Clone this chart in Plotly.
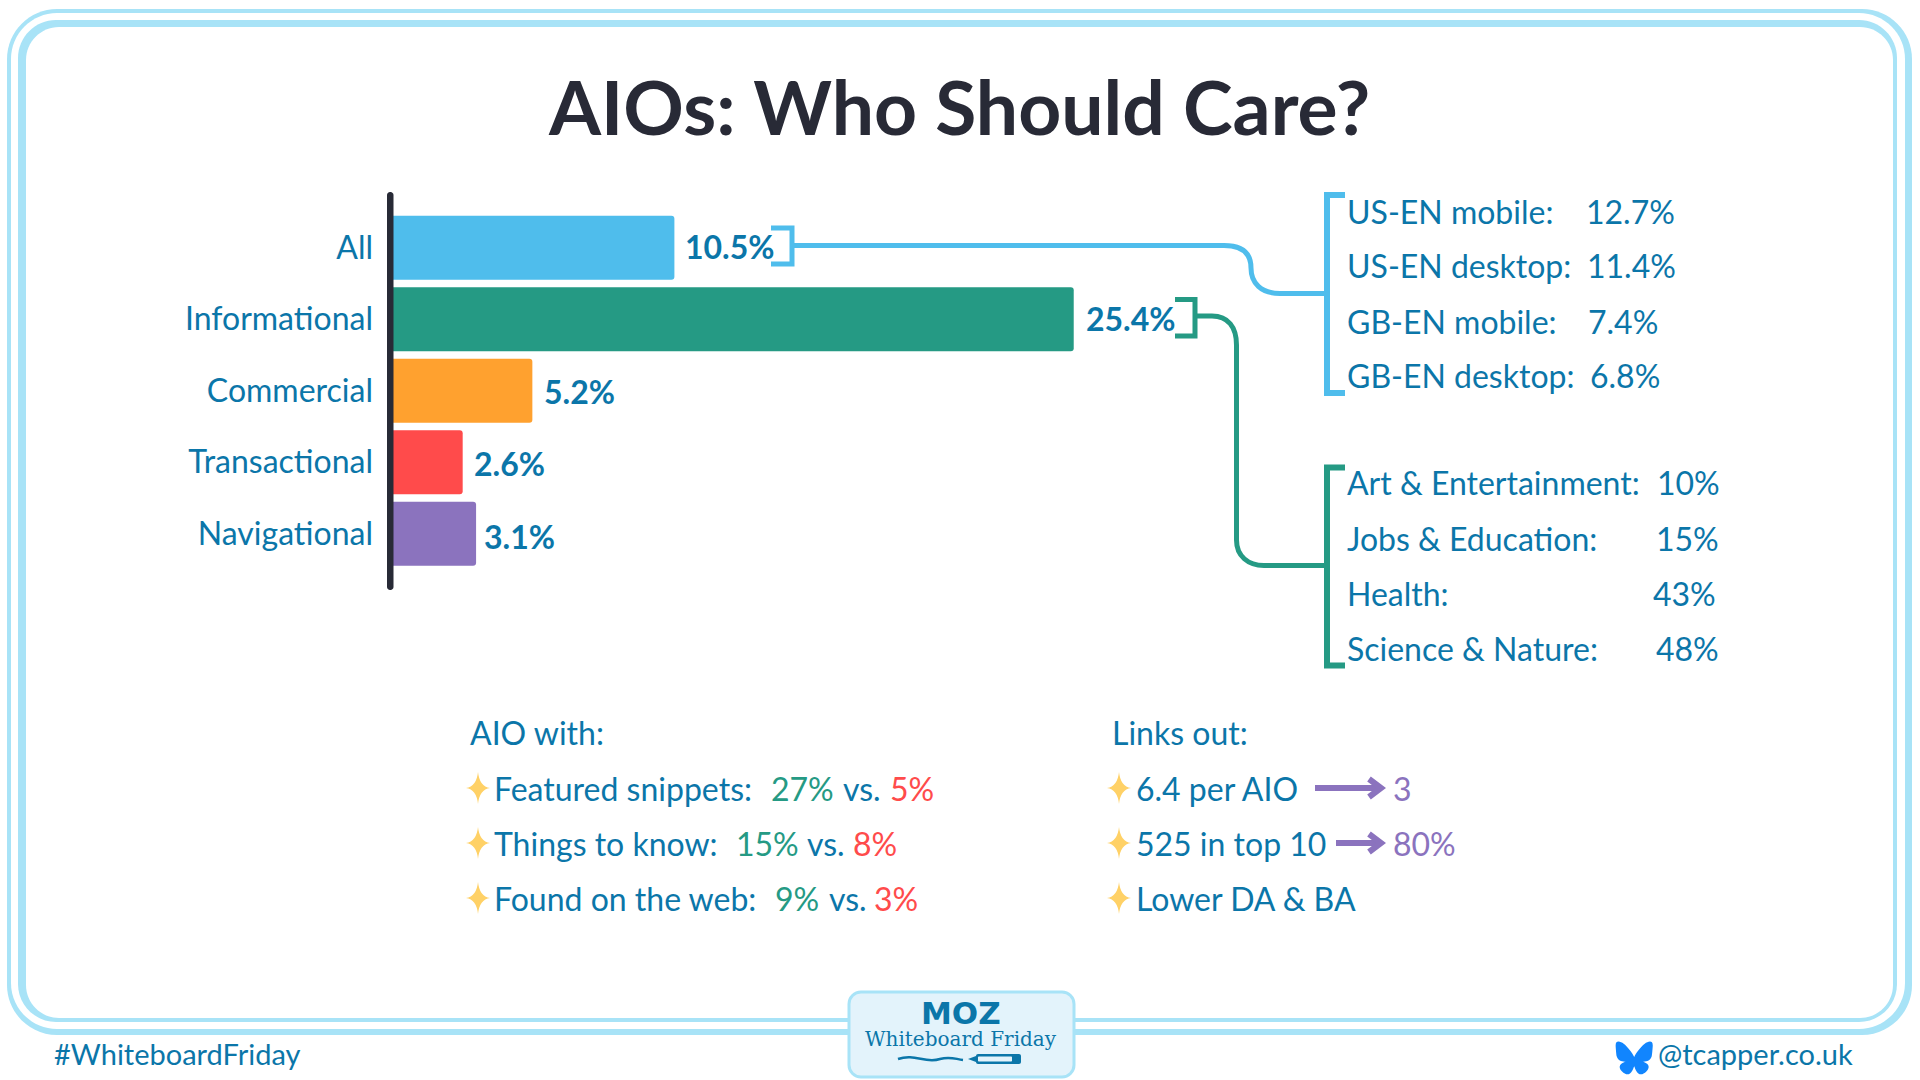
import plotly.graph_objects as go

W = 1920
H = 1080

# main bars
categories = ["All", "Informational", "Commercial", "Transactional", "Navigational"]
shares = [10.5, 25.4, 5.2, 2.6, 3.1]

# right hand breakdowns
locale_labels = ["US-EN mobile:", "US-EN desktop:", "GB-EN mobile:", "GB-EN desktop:"]
locale_values = ["12.7%", "11.4%", "7.4%", "6.8%"]
topic_labels = ["Art & Entertainment:", "Jobs & Education:", "Health:", "Science & Nature:"]
topic_values = ["10%", "15%", "43%", "48%"]

# bottom lists
aio_title = "AIO with:"
aio_labels = ["Featured snippets:", "Things to know:", "Found on the web:"]
aio_with = ["27%", "15%", "9%"]
aio_without = ["5%", "8%", "3%"]
links_title = "Links out:"
links_labels = ["6.4 per AIO", "525 in top 10", "Lower DA & BA"]
links_after = ["3", "80%", ""]

# colours
TEXT = "#0B76A9"
DARK = "#282A36"
SKY = "#4FBDEC"
GREEN = "#259A84"
ORANGE = "#FFA12F"
RED = "#FF4B4B"
PURPLE = "#8B73BE"
YELLOW = "#FFD166"
FRAME = "#A8E3F7"
BADGE = "#E3F3FB"
bar_colors = [SKY, GREEN, ORANGE, RED, PURPLE]

FONT = "Lato"
BODY = 32


def fx(x):
    return x / W


def fy(y):
    return 1 - y / H


def rounded_path(x0, y0, x1, y1, r):
    k = r * 0.45
    return (
        f"M {fx(x0 + r)} {fy(y0)} L {fx(x1 - r)} {fy(y0)} "
        f"C {fx(x1 - k)} {fy(y0)} {fx(x1)} {fy(y0 + k)} {fx(x1)} {fy(y0 + r)} "
        f"L {fx(x1)} {fy(y1 - r)} "
        f"C {fx(x1)} {fy(y1 - k)} {fx(x1 - k)} {fy(y1)} {fx(x1 - r)} {fy(y1)} "
        f"L {fx(x0 + r)} {fy(y1)} "
        f"C {fx(x0 + k)} {fy(y1)} {fx(x0)} {fy(y1 - k)} {fx(x0)} {fy(y1 - r)} "
        f"L {fx(x0)} {fy(y0 + r)} "
        f"C {fx(x0)} {fy(y0 + k)} {fx(x0 + k)} {fy(y0)} {fx(x0 + r)} {fy(y0)} Z"
    )


def fill_shape(path, color, layer="above", line_color=None, line_width=0):
    return dict(
        type="path", path=path, xref="paper", yref="paper", layer=layer,
        fillcolor=color, line=dict(color=line_color or color, width=line_width),
    )


def stroke_path(points, color, width):
    # points is a list of (command, x, y, ...) in pixels
    parts = []
    for p in points:
        coords = p[1:]
        txt = " ".join(
            str(fx(v)) if i % 2 == 0 else str(fy(v)) for i, v in enumerate(coords)
        )
        parts.append(f"{p[0]} {txt}")
    return dict(
        type="path", path=" ".join(parts), xref="paper", yref="paper",
        line=dict(color=color, width=width),
    )


def sparkle(cx, cy, rx=12, ry=16):
    return fill_shape(
        f"M {fx(cx)} {fy(cy - ry)} Q {fx(cx + 1.5)} {fy(cy - 1.5)} {fx(cx + rx)} {fy(cy)} "
        f"Q {fx(cx + 1.5)} {fy(cy + 1.5)} {fx(cx)} {fy(cy + ry)} "
        f"Q {fx(cx - 1.5)} {fy(cy + 1.5)} {fx(cx - rx)} {fy(cy)} "
        f"Q {fx(cx - 1.5)} {fy(cy - 1.5)} {fx(cx)} {fy(cy - ry)} Z",
        YELLOW,
    )


def arrow(x0, x1, y):
    return [
        stroke_path([("M", x0, y), ("L", x1 - 2, y)], PURPLE, 6),
        stroke_path([("M", x1 - 12, y - 9), ("L", x1, y), ("L", x1 - 12, y + 9)], PURPLE, 6),
    ]


def note(x, y, text, color=TEXT, size=BODY, weight=400, anchor="left", family=FONT):
    return dict(
        x=fx(x), y=fy(y), xref="paper", yref="paper", text=text, showarrow=False,
        xanchor=anchor, yanchor="middle", borderpad=0,
        font=dict(family=family, size=size, color=color, weight=weight),
    )


# bluesky butterfly, outline in a 600 wide box
BUTTERFLY = [
    (135.72, 44.03),
    (202.216, 93.951, 273.74, 195.17, 300, 249.49),
    (326.262, 195.174, 397.782, 93.95, 464.28, 44.03),
    (512.26, 8.009, 590, -19.862, 590, 68.825),
    (590, 86.537, 579.845, 217.615, 573.889, 238.895),
    (553.186, 312.879, 477.745, 331.749, 410.639, 320.328),
    (527.939, 340.292, 557.779, 406.42, 493.336, 472.548),
    (370.946, 598.138, 317.426, 441.037, 303.706, 400.782),
    (300, 393),
    (296.294, 400.782),
    (282.58, 441.037, 229.061, 598.142, 106.664, 472.548),
    (42.22, 406.42, 72.059, 340.288, 189.361, 320.328),
    (122.253, 331.749, 46.811, 312.879, 26.111, 238.895),
    (20.155, 217.613, 10, 86.535, 10, 68.825),
    (10, -19.862, 87.742, 8.009, 135.72, 44.03),
]


def butterfly_path(x, y, scale):
    parts = []
    for i, seg in enumerate(BUTTERFLY):
        cmd = "M" if i == 0 else ("L" if len(seg) == 2 else "C")
        vals = []
        for j in range(0, len(seg), 2):
            vals += [str(fx(x + seg[j] * scale)), str(fy(y + seg[j + 1] * scale))]
        parts.append(cmd + " " + " ".join(vals))
    return " ".join(parts) + " Z"


BAR_LEFT = 393
PX_PER_POINT = 26.8

fig = go.Figure(
    go.Bar(
        x=shares, y=categories, orientation="h",
        marker=dict(color=bar_colors, cornerradius=3, line=dict(width=0)),
        hoverinfo="x+y",
    )
)

shapes = [
    # double frame, each layer painted over the last
    fill_shape(rounded_path(7, 9, 1912, 1035, 50), FRAME, "below"),
    fill_shape(rounded_path(11, 13, 1905, 1029, 46), "white", "below"),
    fill_shape(rounded_path(18, 20, 1897, 1022, 38), FRAME, "below"),
    fill_shape(rounded_path(26, 27, 1893, 1018, 33), "white", "below"),
    # axis rule
    fill_shape(rounded_path(387, 192, 393.5, 590, 3), DARK),
    # sky connector
    stroke_path([("M", 771, 228), ("L", 792, 228), ("L", 792, 264), ("L", 771, 264)], SKY, 5),
    stroke_path([("M", 792, 245.5), ("L", 1224, 245.5), ("C", 1243, 245.5, 1251, 254, 1251, 268),
                 ("C", 1251, 283, 1261, 293.5, 1280, 293.5), ("L", 1326, 293.5)], SKY, 5),
    stroke_path([("M", 1345, 195), ("L", 1327, 195), ("L", 1327, 393), ("L", 1345, 393)], SKY, 6),
    # green connector
    stroke_path([("M", 1175, 299.5), ("L", 1195, 299.5), ("L", 1195, 336), ("L", 1175, 336)], GREEN, 5),
    stroke_path([("M", 1195, 316), ("L", 1212, 316), ("C", 1228, 316, 1236.5, 327, 1236.5, 345),
                 ("L", 1236.5, 540), ("C", 1236.5, 556, 1248, 565.5, 1264, 565.5), ("L", 1326, 565.5)], GREEN, 5),
    stroke_path([("M", 1345, 467.5), ("L", 1327, 467.5), ("L", 1327, 665.5), ("L", 1345, 665.5)], GREEN, 6),
    # moz badge
    fill_shape(rounded_path(849, 992, 1074, 1077, 12), BADGE, "above", FRAME, 3),
    stroke_path([("M", 898, 1059), ("C", 915, 1053, 925, 1064, 940, 1059), ("C", 950, 1056, 955, 1059, 963, 1060)], TEXT, 2.5),
    fill_shape(rounded_path(976, 1054, 1021, 1064, 2), TEXT),
    fill_shape(rounded_path(978, 1056.5, 1012, 1061.5, 1), BADGE),
    fill_shape(f"M {fx(968)} {fy(1059)} L {fx(976)} {fy(1056)} L {fx(976)} {fy(1062)} Z", TEXT),
    # bluesky mark
    fill_shape(butterfly_path(1615, 1041, 0.064), "#1185FE"),
]

annotations = [
    note(959, 106, "AIOs: Who Should Care?", DARK, 75, 700, "center"),
    note(53, 1053.5, "#WhiteboardFriday", size=29),
    note(1657, 1053.5, "@tcapper.co.uk", size=29),
    note(961, 1013, "MOZ", TEXT, 31, 900, "center", "DejaVu Sans"),
    note(961, 1039, "Whiteboard Friday", TEXT, 20, 400, "center", "DejaVu Serif"),
]

# bar value labels sit on the bar ends
label_nudge_x = [10, 11, 11, 10, 7]
label_nudge_y = [1, 1, -1, -1, -2.5]
for name, val, nx, ny in zip(categories, shares, label_nudge_x, label_nudge_y):
    annotations.append(dict(
        x=val, y=name, xref="x", yref="y", text=f"{val}%", showarrow=False,
        xanchor="left", yanchor="middle", xshift=nx, yshift=ny, borderpad=0,
        font=dict(family=FONT, size=BODY, color=TEXT, weight=700),
    ))

locale_rows = [211, 266, 321, 376]
locale_value_x = [1585, 1586, 1587, 1589]
for label, val, row, vx in zip(locale_labels, locale_values, locale_rows, locale_value_x):
    annotations.append(note(1346, row, label))
    annotations.append(note(vx, row, val))

topic_rows = [483, 539, 593, 648]
topic_value_x = [1656, 1655, 1651.5, 1655]
for label, val, row, vx in zip(topic_labels, topic_values, topic_rows, topic_value_x):
    annotations.append(note(1346, row, label))
    annotations.append(note(vx, row, val))

annotations.append(note(469, 732.5, aio_title))
annotations.append(note(1111, 732.5, links_title))

list_rows = [788, 843, 898]
with_x = [769.5, 734.7, 773.5]
vs_x = [842, 806, 828.4]
without_x = [888.7, 851.5, 873]
for i, row in enumerate(list_rows):
    shapes.append(sparkle(478, row))
    annotations.append(note(493, row, aio_labels[i]))
    annotations.append(note(with_x[i], row, aio_with[i], GREEN))
    annotations.append(note(vs_x[i], row, "vs."))
    annotations.append(note(without_x[i], row, aio_without[i], RED))

    shapes.append(sparkle(1119, row))
    annotations.append(note(1135, row, links_labels[i]))
    if links_after[i]:
        annotations.append(note(1392, row, links_after[i], PURPLE))

shapes += arrow(1315, 1381, list_rows[0])
shapes += arrow(1336, 1381, list_rows[1])

fig.update_layout(
    width=W, height=H,
    margin=dict(l=0, r=0, t=0, b=0),
    paper_bgcolor="white", plot_bgcolor="rgba(0,0,0,0)",
    showlegend=False, bargap=0.105,
    shapes=shapes, annotations=annotations,
    xaxis=dict(
        domain=[fx(BAR_LEFT), fx(BAR_LEFT + 1000)], range=[0, 1000 / PX_PER_POINT],
        visible=False,
    ),
    yaxis=dict(
        domain=[fy(569.5), fy(212)], categoryorder="array", categoryarray=categories,
        autorange="reversed", showgrid=False, zeroline=False, showline=False,
        ticks="", ticklabelstandoff=19,
        tickfont=dict(family=FONT, size=BODY, color=TEXT),
    ),
)

# page margin would push the 1920 wide figure off the window
fig.write_html(
    "out.html",
    config={"displayModeBar": False},
    post_script="document.body.style.margin = '0';",
)
